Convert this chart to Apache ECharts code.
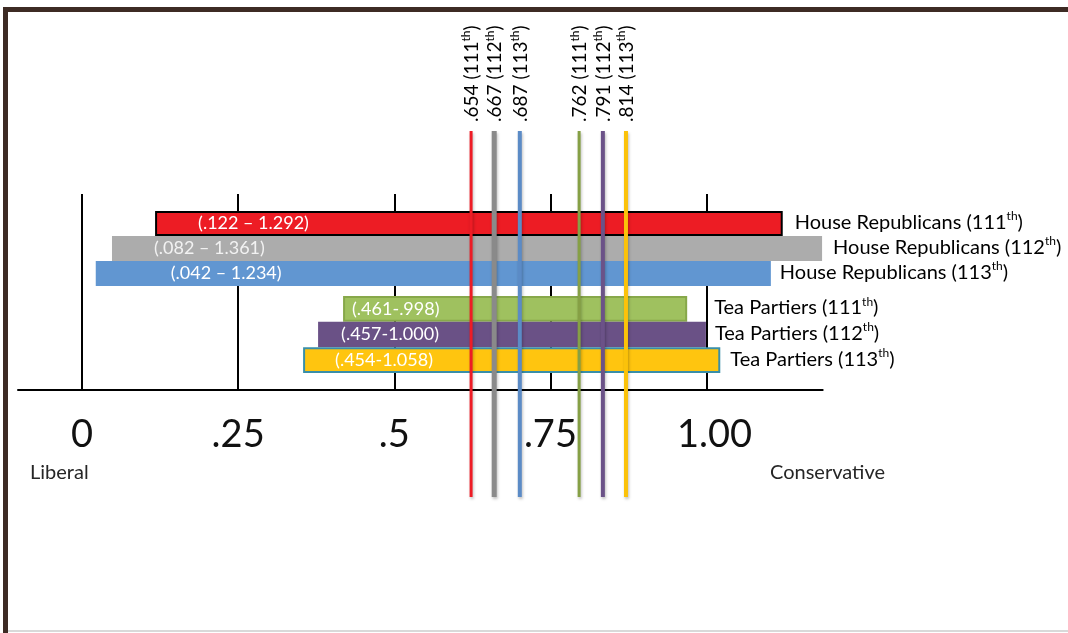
<!DOCTYPE html>
<html><head><meta charset="utf-8">
<script src="https://cdn.jsdelivr.net/npm/echarts@6/dist/echarts.min.js"></script>
<style>html,body{margin:0;padding:0;background:#fff}#c{width:1068px;height:633px}</style>
</head><body><div id="c"></div>
<script>
// ---------- data ----------
const congresses = ["111", "112", "113"];
const houseStart = [0.117, 0.048, 0.022];
const houseEnd = [1.122, 1.185, 1.103];
const houseRangeLabels = ["(.122 \u2013 1.292)", "(.082 \u2013 1.361)", "(.042 \u2013 1.234)"];
const teaStart = [0.418, 0.378, 0.354];
const teaEnd = [0.969, 0.999, 1.022];
const teaRangeLabels = ["(.461-.998)", "(.457-1.000)", "(.454-1.058)"];
const medianPositions = [0.623, 0.660, 0.701, 0.796, 0.834, 0.871];
const medianValues = [".654", ".667", ".687", ".762", ".791", ".814"];
const medianCongress = ["111", "112", "113", "111", "112", "113"];
const tickValues = [0, 0.25, 0.5, 0.75, 1.0];
const tickLabels = ["0", ".25", ".5", ".75", "1.00"];
const groupNames = ["House Republicans", "Tea Partiers"];
const endLabels = ["Liberal", "Conservative"];

// ---------- styles / layout ----------
const FONT = 'Lato';
const X_MIN = -0.1025, X_MAX = 1.186;
const GL = 18, GW = 804.7;
const houseFill = ['#ed1c24', '#acacac', '#6196d1'];
const houseStroke = ['#000000', null, null];
const teaFill = ['#9fc15f', '#6a5186', '#ffc50f'];
const teaStroke = ['#87a84a', null, '#3a8fa8'];
const lineColors = ['#ee1c25', '#8a8a8a', '#5b8bc6', '#86a045', '#6b5288', '#fbc20a'];
const lineWidths = [3, 5, 4, 3, 4, 4];
const houseInnerOffset = [43, 42, 75];
const teaInnerOffset = [9, 23, 32];
const houseOuterOffset = [12, 11, 9];
const teaOuterOffset = [27, 9, 10];
const tickLabelShift = [0, 0, 0, 0, 16];

const rich = (fs, color) => ({
  n: {fontSize: fs, fontFamily: FONT, color: color, lineHeight: fs + 4},
  s: {fontSize: Math.round(fs * 0.62), fontFamily: FONT, color: color, verticalAlign: 'top', lineHeight: fs - 2}
});

function barSeries(gridIdx, starts, ends, fills, strokes, inner, innerOff, name, outerOff) {
  const data = starts.map((s, i) => [s, ends[i], i]);
  return {
    type: 'custom', xAxisIndex: gridIdx, yAxisIndex: gridIdx, z: 2,
    encode: {x: [0, 1], y: 2},
    data: data,
    clip: false,
    renderItem: function (params, api) {
      const i = params.dataIndex;
      const s = api.coord([api.value(0), api.value(2)]);
      const e = api.coord([api.value(1), api.value(2)]);
      const h = api.size([0, 1])[1];
      const stroke = strokes[i];
      const inset = stroke ? 1 : 0;
      return {
        type: 'group',
        children: [
          {type: 'rect', shape: {x: s[0] + inset, y: s[1] - h / 2 + inset, width: e[0] - s[0] - 2 * inset, height: h - 2 * inset},
           style: {fill: fills[i], stroke: stroke || null, lineWidth: stroke ? 2 : 0}},
          {type: 'text', x: s[0] + innerOff[i], y: s[1],
           style: {text: inner[i], fill: i === 1 && gridIdx === 1 ? '#f2f2f2' : '#ffffff', font: '18px ' + FONT, align: 'left', verticalAlign: 'middle'}},
          {type: 'text', x: e[0] + outerOff[i], y: s[1] - 1,
           style: {text: '{n|' + name + ' (' + congresses[i] + '}{s|th}{n|)}', rich: rich(20, '#262626'), align: 'left', verticalAlign: 'middle'}}
        ]
      };
    }
  };
}

const chart = echarts.init(document.getElementById('c'), null, {renderer: 'canvas'});
const hiddenX = (g) => ({gridIndex: g, type: 'value', min: X_MIN, max: X_MAX, show: false});

chart.setOption({
  animation: false,
  backgroundColor: '#ffffff',
  grid: [
    {left: GL, width: GW, top: 194, height: 196},
    {left: GL, width: GW, top: 211, height: 75},
    {left: GL, width: GW, top: 296, height: 77},
    {left: GL, width: GW, top: 131, height: 366}
  ],
  xAxis: [
    {gridIndex: 0, type: 'value', min: X_MIN, max: X_MAX,
     axisLine: {show: true, lineStyle: {color: '#000', width: 2}},
     axisTick: {show: true, inside: true, length: 196, customValues: tickValues, lineStyle: {color: '#000', width: 2}},
     axisLabel: {show: true, customValues: tickValues, margin: 26, fontSize: 38, fontFamily: FONT, color: '#111',
       rich: {t: {fontSize: 38, fontFamily: FONT, color: '#111'}, r: {fontSize: 38, fontFamily: FONT, color: '#111', padding: [0, 0, 0, 16]}},
       formatter: (v) => {
         const k = tickValues.findIndex(t => Math.abs(t - v) < 1e-9);
         return (tickLabelShift[k] ? '{r|' : '{t|') + tickLabels[k] + '}';
       }},
     splitLine: {show: false}},
    hiddenX(1), hiddenX(2), hiddenX(3)
  ],
  yAxis: [
    {gridIndex: 0, type: 'value', min: 0, max: 1, show: false},
    {gridIndex: 1, type: 'category', data: congresses, inverse: true, show: false},
    {gridIndex: 2, type: 'category', data: congresses, inverse: true, show: false},
    {gridIndex: 3, type: 'value', min: 0, max: 1, show: false}
  ],
  series: [
    barSeries(1, houseStart, houseEnd, houseFill, houseStroke, houseRangeLabels, houseInnerOffset, groupNames[0], houseOuterOffset),
    barSeries(2, teaStart, teaEnd, teaFill, teaStroke, teaRangeLabels, teaInnerOffset, groupNames[1], teaOuterOffset),
    {
      type: 'custom', xAxisIndex: 3, yAxisIndex: 3, z: 5, clip: false,
      encode: {x: 0, y: 1},
      data: medianPositions.map(p => [p, 1]),
      renderItem: function (params, api) {
        const i = params.dataIndex;
        const top = api.coord([api.value(0), 1]);
        const bot = api.coord([api.value(0), 0]);
        return {
          type: 'group',
          children: [
            {type: 'line', shape: {x1: top[0], y1: top[1], x2: bot[0], y2: bot[1]},
             style: {stroke: lineColors[i], lineWidth: lineWidths[i], shadowColor: 'rgba(0,0,0,0.25)', shadowBlur: 3, shadowOffsetX: 1, shadowOffsetY: 2}},
            {type: 'text', x: top[0] + 1, y: top[1] - 9, rotation: Math.PI / 2,
             style: {text: '{n|' + medianValues[i] + ' (' + medianCongress[i] + '}{s|th}{n|)}', rich: rich(19, '#111'), align: 'left', verticalAlign: 'middle'}}
          ]
        };
      }
    }
  ],
  graphic: [
    {type: 'rect', shape: {x: 3, y: 7, width: 1065, height: 5}, style: {fill: '#3d2b24'}},
    {type: 'rect', shape: {x: 3, y: 7, width: 5, height: 626}, style: {fill: '#3d2b24'}},
    {type: 'rect', shape: {x: 8, y: 630, width: 1060, height: 2}, style: {fill: '#d9d9d9'}},
    {type: 'text', x: 30, y: 473, style: {text: endLabels[0], font: '20px ' + FONT, fill: '#262626', verticalAlign: 'middle'}},
    {type: 'text', x: 770, y: 473, style: {text: endLabels[1], font: '20px ' + FONT, fill: '#262626', verticalAlign: 'middle'}}
  ]
});
</script>
</body></html>
